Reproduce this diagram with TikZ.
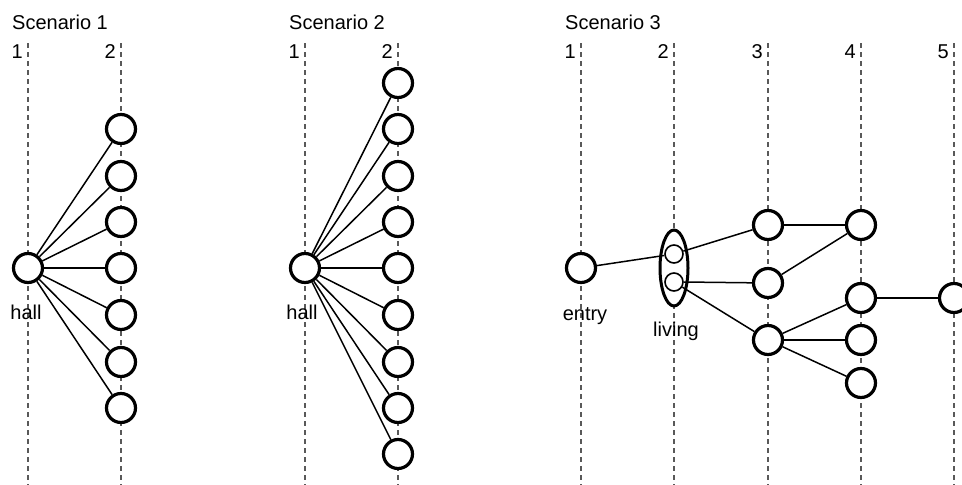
\documentclass[tikz,border=0pt]{standalone}
\usepackage{fontspec}
\setmainfont{Liberation Sans}
\begin{document}
\begin{tikzpicture}[x=1pt,y=-1pt,
  guide/.style={draw=black!65,line width=1.3pt,dash pattern=on 5pt off 4pt},
  room/.style={circle,draw,line width=3.2pt,minimum size=29pt,inner sep=0pt,fill=white},
  sub/.style={circle,draw,line width=1.6pt,minimum size=18pt,inner sep=0pt},
  link/.style={line width=1.5pt},
  lbl/.style={font=\fontsize{20}{20}\selectfont,inner sep=0pt},
  num/.style={font=\fontsize{20}{20}\selectfont,inner sep=0pt,anchor=east}]
\useasboundingbox (0,0) rectangle (962,485);
% guide lines
\foreach \x/\n [count=\i] in {28/1,121/2,305/1,398/2,581/1,674/2,768/3,861/4,954/5}{
  \draw[guide] (\x,43) -- (\x,485);
  \node[num] (n\i) at (\x-5,52) {\n};
}
\node[lbl,anchor=west] (t1) at (12,22) {Scenario 1};
\node[lbl,anchor=west] (t2) at (289,22) {Scenario 2};
\node[lbl,anchor=west] (t3) at (565,22) {Scenario 3};
% Scenario 1
\node[room] (h1) at (28,268) {};
\node[lbl] (hl1) at (26,312) {hall};
\foreach \y [count=\i] in {129,176,222,268,315,362,408}{
  \node[room] (a\i) at (121,\y) {};
  \draw[link] (h1) -- (a\i);
}
% Scenario 2
\node[room] (h2) at (305,268) {};
\node[lbl] (hl2) at (302,312) {hall};
\foreach \y [count=\i] in {83,129,176,222,268,315,362,408,454}{
  \node[room] (b\i) at (398,\y) {};
  \draw[link] (h2) -- (b\i);
}
% Scenario 3
\node[room] (en) at (581,268) {};
\node[lbl] (enl) at (585,316) {entry};
\draw[line width=3pt,fill=white] (674,268) ellipse (14 and 38);
\node[sub] (lv1) at (674,254) {};
\node[sub] (lv2) at (674,282) {};
\node[lbl] (lvl) at (676,331) {living};
\node[room] (c1) at (768,225) {};
\node[room] (c2) at (768,283) {};
\node[room] (c3) at (768,340) {};
\node[room] (d1) at (861,225) {};
\node[room] (d2) at (861,298) {};
\node[room] (d3) at (861,340) {};
\node[room] (d4) at (861,383) {};
\node[room] (e1) at (954,298) {};
\draw[link] (en) -- (lv1);
\draw[link] (lv1) -- (c1);
\draw[link] (lv2.east) -- (c2);
\draw[link] (lv2) -- (c3);
\draw[link] (c1) -- (d1);
\draw[link] (c2) -- (d1);
\draw[link] (c3) -- (d2);
\draw[link] (c3) -- (d3);
\draw[link] (c3) -- (d4);
\draw[link] (d2) -- (e1);
\end{tikzpicture}
\end{document}
